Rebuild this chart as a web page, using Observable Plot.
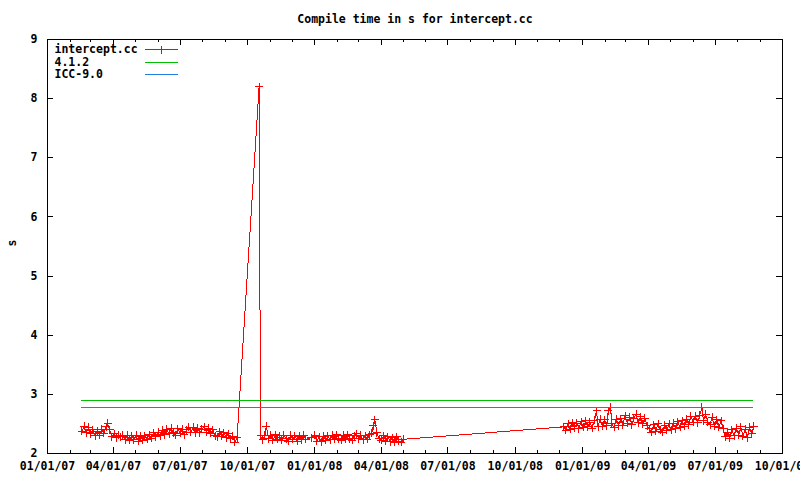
<!DOCTYPE html>
<html><head><meta charset="utf-8">
<script src="https://cdn.jsdelivr.net/npm/d3@7"></script>
<script src="https://cdn.jsdelivr.net/npm/@observablehq/plot@0.6"></script>
<style>
html,body{margin:0;padding:0;background:#fff;overflow:hidden}
</style></head><body><div id="chart"></div>
<script>
const title = "Compile time in s for intercept.cc";
const yLabel = "s";
const seriesNames = ["intercept.cc", "4.1.2", "ICC-9.0"];
const seriesColors = ["#ff0000", "#00c000", "#1e80e0"];
const referenceLevels = [2.89, 2.77]; // 4.1.2, ICC-9.0
const xDomain = ["2007-01-01", "2009-10-01"];
const yDomain = [2, 9];
const yTicks = [2, 3, 4, 5, 6, 7, 8, 9];
const tickFormat = "%m/%d/%y";

const samples = [
["2007-02-17",2.38],["2007-02-20",2.46],["2007-02-23",2.35],["2007-02-26",2.44],["2007-03-01",2.33],
["2007-03-04",2.40],["2007-03-07",2.30],["2007-03-10",2.38],["2007-03-13",2.31],["2007-03-16",2.41],
["2007-03-19",2.34],["2007-03-22",2.45],["2007-03-24",2.51],["2007-03-27",2.40],["2007-03-30",2.28],
["2007-04-02",2.33],["2007-04-05",2.27],["2007-04-08",2.31],["2007-04-11",2.28],["2007-04-14",2.31],
["2007-04-17",2.23],["2007-04-20",2.31],["2007-04-23",2.22],["2007-04-26",2.30],["2007-04-29",2.23],
["2007-05-02",2.31],["2007-05-05",2.21],["2007-05-08",2.29],["2007-05-11",2.22],["2007-05-14",2.30],
["2007-05-17",2.24],["2007-05-20",2.32],["2007-05-23",2.26],["2007-05-26",2.35],["2007-05-29",2.28],
["2007-06-01",2.36],["2007-06-04",2.30],["2007-06-07",2.39],["2007-06-10",2.32],["2007-06-13",2.41],
["2007-06-16",2.33],["2007-06-19",2.43],["2007-06-22",2.35],["2007-06-25",2.31],["2007-06-28",2.42],
["2007-07-01",2.34],["2007-07-04",2.41],["2007-07-07",2.32],["2007-07-10",2.40],["2007-07-13",2.44],
["2007-07-16",2.36],["2007-07-19",2.44],["2007-07-22",2.35],["2007-07-25",2.43],["2007-07-28",2.35],
["2007-07-31",2.41],["2007-08-03",2.45],["2007-08-06",2.36],["2007-08-09",2.43],["2007-08-12",2.34],
["2007-08-15",2.40],["2007-08-18",2.30],["2007-08-21",2.28],["2007-08-24",2.37],["2007-08-27",2.29],
["2007-08-30",2.35],["2007-09-02",2.27],["2007-09-05",2.33],["2007-09-08",2.25],["2007-09-11",2.29],
["2007-09-14",2.19],["2007-09-17",2.27],
["2007-10-17",8.20],
["2007-10-19",2.30],["2007-10-22",2.23],["2007-10-25",2.31],["2007-10-27",2.46],["2007-10-30",2.25],
["2007-11-02",2.31],["2007-11-05",2.22],["2007-11-08",2.32],["2007-11-11",2.24],["2007-11-14",2.30],
["2007-11-17",2.22],["2007-11-20",2.31],["2007-11-23",2.25],["2007-11-26",2.21],["2007-11-29",2.31],
["2007-12-02",2.24],["2007-12-05",2.30],["2007-12-08",2.21],["2007-12-11",2.29],["2007-12-14",2.23],
["2007-12-17",2.31],["2007-12-20",2.24],["2007-12-27",2.27],["2008-01-01",2.31],["2008-01-04",2.21],
["2008-01-07",2.28],["2008-01-10",2.20],["2008-01-13",2.29],["2008-01-16",2.22],["2008-01-19",2.30],
["2008-01-22",2.23],["2008-01-25",2.31],["2008-01-28",2.24],["2008-01-31",2.32],["2008-02-03",2.25],
["2008-02-06",2.22],["2008-02-09",2.31],["2008-02-12",2.24],["2008-02-15",2.32],["2008-02-18",2.25],
["2008-02-21",2.22],["2008-02-24",2.30],["2008-02-27",2.33],["2008-03-01",2.25],["2008-03-04",2.31],
["2008-03-07",2.23],["2008-03-10",2.30],["2008-03-13",2.24],["2008-03-16",2.32],["2008-03-19",2.34],
["2008-03-21",2.47],["2008-03-23",2.57],["2008-03-26",2.35],["2008-03-29",2.25],["2008-04-01",2.22],
["2008-04-04",2.30],["2008-04-07",2.21],["2008-04-10",2.28],["2008-04-13",2.20],["2008-04-16",2.27],
["2008-04-19",2.19],["2008-04-22",2.28],["2008-04-25",2.21],["2008-04-28",2.19],["2008-05-01",2.24],
["2008-12-06",2.45],["2008-12-09",2.39],["2008-12-12",2.50],["2008-12-15",2.41],["2008-12-18",2.52],
["2008-12-21",2.43],["2008-12-24",2.51],["2008-12-27",2.42],["2008-12-30",2.54],["2009-01-02",2.44],
["2009-01-05",2.55],["2009-01-08",2.45],["2009-01-11",2.53],["2009-01-14",2.43],["2009-01-17",2.56],
["2009-01-20",2.72],["2009-01-22",2.45],["2009-01-25",2.58],["2009-01-28",2.46],["2009-01-31",2.57],
["2009-02-03",2.47],["2009-02-05",2.72],["2009-02-08",2.78],["2009-02-10",2.50],["2009-02-13",2.44],
["2009-02-16",2.58],["2009-02-19",2.47],["2009-02-22",2.59],["2009-02-25",2.48],["2009-02-28",2.64],
["2009-03-03",2.51],["2009-03-06",2.61],["2009-03-09",2.49],["2009-03-12",2.60],["2009-03-15",2.66],
["2009-03-18",2.52],["2009-03-21",2.62],["2009-03-24",2.50],["2009-03-27",2.60],["2009-03-30",2.47],
["2009-04-02",2.42],["2009-04-05",2.36],["2009-04-08",2.49],["2009-04-11",2.38],["2009-04-14",2.50],
["2009-04-17",2.40],["2009-04-20",2.36],["2009-04-23",2.48],["2009-04-26",2.39],["2009-04-29",2.50],
["2009-05-02",2.40],["2009-05-05",2.51],["2009-05-08",2.42],["2009-05-11",2.54],["2009-05-14",2.44],
["2009-05-17",2.55],["2009-05-20",2.46],["2009-05-23",2.58],["2009-05-26",2.49],["2009-05-29",2.63],
["2009-06-01",2.53],["2009-06-04",2.63],["2009-06-07",2.52],["2009-06-10",2.65],["2009-06-13",2.78],
["2009-06-15",2.55],["2009-06-18",2.66],["2009-06-21",2.53],["2009-06-24",2.49],["2009-06-27",2.61],
["2009-06-30",2.46],["2009-07-03",2.57],["2009-07-06",2.44],["2009-07-09",2.55],["2009-07-12",2.42],
["2009-07-15",2.28],["2009-07-18",2.36],["2009-07-21",2.26],["2009-07-24",2.40],["2009-07-27",2.30],
["2009-07-30",2.43],["2009-08-02",2.31],["2009-08-05",2.45],["2009-08-08",2.29],["2009-08-11",2.41],
["2009-08-14",2.27],["2009-08-17",2.44],["2009-08-20",2.33],["2009-08-23",2.46]
];

const data = samples.map(([d, v]) => ({date: new Date(d + "T00:00:00Z"), v}));
const x0 = new Date(xDomain[0] + "T00:00:00Z"), x1 = new Date(xDomain[1] + "T00:00:00Z");
const majorX = d3.utcMonth.every(3).range(x0, d3.utcDay.offset(x1, 1));
const minorX = d3.utcMonth.range(x0, d3.utcDay.offset(x1, 1));
const firstDate = data[0].date, lastDate = data[data.length - 1].date;

const W = 800, H = 480, mL = 47, mR = 18, mT = 39, mB = 27;
const fw = W - mL - mR, fh = H - mT - mB;
const font = "'DejaVu Sans Mono', 'Liberation Mono', monospace";
const fs = 11.5;
const cross = {draw(ctx) { const r = 4; ctx.moveTo(-r, 0); ctx.lineTo(r, 0); ctx.moveTo(0, -r); ctx.lineTo(0, r); }};
const crisp = {stroke: "black", shapeRendering: "crispEdges"};
const legendDy = [10, 23, 35];

const chart = Plot.plot({
  width: W, height: H,
  marginLeft: mL, marginRight: mR, marginTop: mT, marginBottom: mB,
  style: {fontFamily: font, fontSize: fs + "px", fontWeight: "bold", color: "black", background: "white", overflow: "visible"},
  x: {type: "utc", domain: [x0, x1]},
  y: {domain: yDomain},
  marks: [
    Plot.axisX(majorX, {tickFormat: d3.utcFormat(tickFormat), tickSize: 0, tickPadding: 8, label: null, fontSize: fs}),
    Plot.axisY(yTicks, {tickFormat: d3.format("d"), tickSize: 0, tickPadding: 10, label: null, fontSize: fs}),
    Plot.ruleX(minorX, {...crisp, insetTop: fh - 3}),
    Plot.ruleX(minorX, {...crisp, insetBottom: fh - 3}),
    Plot.ruleX(majorX, {...crisp, insetTop: fh - 6}),
    Plot.ruleX(majorX, {...crisp, insetBottom: fh - 6}),
    Plot.ruleY(yTicks, {...crisp, insetRight: fw - 6}),
    Plot.ruleY(yTicks, {...crisp, insetLeft: fw - 6}),
    Plot.line(data, {x: "date", y: "v", stroke: seriesColors[0], strokeWidth: 1, shapeRendering: "crispEdges"}),
    Plot.dot(data, {x: "date", y: "v", symbol: cross, r: 4, stroke: seriesColors[0], fill: "none", strokeWidth: 1, shapeRendering: "crispEdges"}),
    Plot.ruleY([referenceLevels[0]], {y: d => d, x1: firstDate, x2: lastDate, stroke: seriesColors[1], shapeRendering: "crispEdges"}),
    Plot.ruleY([referenceLevels[1]], {y: d => d, x1: firstDate, x2: lastDate, stroke: seriesColors[2], shapeRendering: "crispEdges"}),
    Plot.frame(crisp),
    Plot.text([title], {frameAnchor: "top", lineAnchor: "middle", dy: -20, fontSize: fs, fontWeight: "bold"}),
    Plot.text([yLabel], {frameAnchor: "left", lineAnchor: "middle", dx: -35, rotate: -90, fontSize: fs, fontWeight: "bold"}),
    ...seriesNames.map((n, i) => Plot.text([n], {frameAnchor: "top-left", lineAnchor: "middle", textAnchor: "start", dx: 7, dy: legendDy[i], fontSize: fs, fontWeight: "bold"}))
  ]
});

// legend swatches
const svg = d3.select(chart.tagName.toLowerCase() === "svg" ? chart : chart.querySelector("svg"));
const lg = svg.append("g").attr("shape-rendering", "crispEdges");
seriesNames.forEach((n, i) => {
  const y = mT + legendDy[i] + 0.5;
  lg.append("line").attr("x1", 145).attr("x2", 178).attr("y1", y).attr("y2", y).attr("stroke", seriesColors[i]);
  if (i === 0) lg.append("line").attr("x1", 161.5).attr("x2", 161.5).attr("y1", y - 4).attr("y2", y + 4).attr("stroke", seriesColors[i]);
});

document.getElementById("chart").appendChild(chart);
</script></body></html>
